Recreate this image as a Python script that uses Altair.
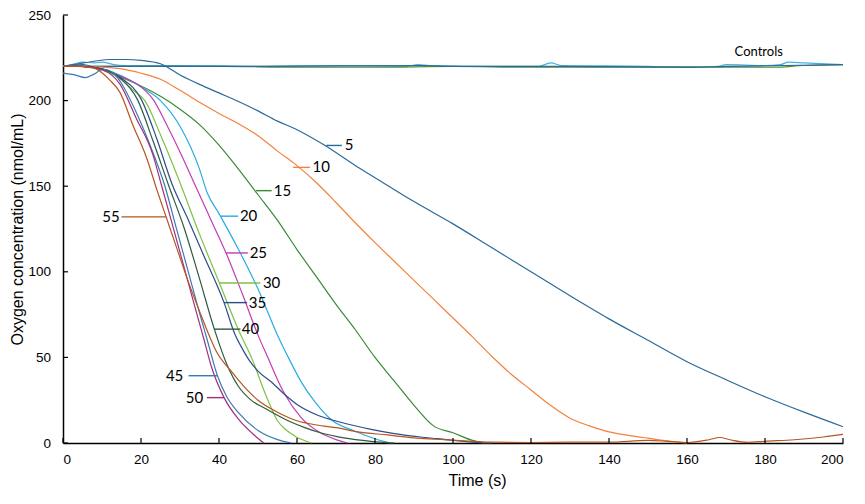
import altair as alt
import pandas as pd

# ---- values: time (s) and oxygen (nmol/mL) ----
t_5 = [0, 4, 8, 12, 16, 20, 25, 30, 35, 40, 45, 50, 55, 60, 67, 75, 80, 90, 100, 110, 120, 130, 140, 150, 160, 170, 180, 190, 200]
v_5 = [220, 221.5, 223, 224, 224, 223.5, 221.5, 215, 209.5, 204.5, 199.5, 194, 188, 183, 174, 162, 155, 141, 128, 114, 100, 86, 72.5, 60, 47.5, 37, 27, 18, 9.5]

t_10 = [0, 5, 10, 15, 20, 25, 30, 35, 40, 45, 50, 55, 60, 65, 70, 75, 80, 85, 90, 95, 100, 105, 110, 115, 120, 125, 130, 135, 140, 145, 150, 155, 160]
v_10 = [220, 220, 219.5, 218.5, 216, 212.5, 206, 199, 192.5, 186.5, 179.5, 170.5, 162, 152, 140.5, 128.5, 117, 106, 95, 84, 73, 62, 50.5, 40, 31, 22, 14.5, 10, 6.5, 4.5, 2.8, 1.2, 0]

t_15 = [0, 5, 10, 15, 20, 25, 30, 35, 40, 45, 50, 55, 60, 65, 70, 75, 80, 85, 90, 95, 100, 105, 108]
v_15 = [220, 220, 218, 213.5, 208.5, 202.5, 195, 186, 174, 160, 145, 130, 113, 97, 81, 66, 50, 36, 22, 10, 6, 1.5, 0]

t_20 = [0, 5, 10, 15, 20, 25, 30, 35, 37, 40, 45, 50, 55, 58, 61, 64.6, 68.8, 74.7, 80, 84]
v_20 = [220, 220, 218.5, 214.5, 208, 200, 185, 160, 146, 134, 113, 90, 63, 49, 36, 24, 13.6, 7, 2.5, 0]

t_25 = [0, 5, 10, 15, 20, 23, 27, 30, 34, 38, 42, 46, 50, 52.7, 55, 57, 61, 66, 70, 73]
v_25 = [220, 220, 218, 214, 208, 201, 184, 170, 150, 130, 110, 87, 63, 49, 37, 28, 15, 6, 2, 0]

t_30 = [0, 5, 10, 15, 18, 21, 25, 30, 35, 40, 45, 48.5, 52, 55, 57, 59.5, 63.7]
v_30 = [220, 220, 218, 212, 206, 200, 180, 152, 122, 94, 66, 49, 28, 13, 8, 4, 0]

t_35 = [0, 5, 10, 15, 20, 24, 28, 32, 36, 41.3, 44, 46, 48, 50, 53.5, 57, 60.3, 65, 68.8, 74, 79, 85, 91.7, 96, 100, 105, 110]
v_35 = [220, 220, 218.5, 213, 201, 178, 151, 131, 110, 82, 64, 55, 47.5, 42, 35.5, 28, 22, 16.5, 13.6, 10.5, 8, 5.5, 3.5, 2.5, 1.5, 0.5, 0]

t_40 = [0, 5, 10, 15, 19, 23, 27, 31, 35, 38.8, 42, 45, 48, 52, 58, 62, 66, 72, 79, 85]
v_40 = [220, 220, 218.5, 212.5, 201, 177, 151, 126, 96, 66.5, 46, 33, 25.5, 20, 12.7, 9, 6, 3, 1, 0]

t_45 = [0, 3, 5.7, 7.8, 10.3, 13, 15, 19, 23, 26, 29, 32, 35, 37, 39.6, 42, 45.1, 50.2, 55, 58.6]
v_45 = [216, 215, 213.4, 215.3, 218.3, 216, 210, 192, 170, 151, 126, 101, 76, 60, 39.3, 27, 17.4, 7, 2, 0]

t_50 = [0, 5, 10, 14.6, 18.8, 23, 25.2, 28, 31, 34, 36.2, 38, 41.3, 45.1, 49.3, 51.5]
v_50 = [220, 220, 218, 209.6, 189.6, 168.7, 151, 128, 103, 78, 60, 45, 26.5, 13.6, 4.1, 0]

t_55 = [0, 4, 8, 12, 14.6, 17.9, 21.4, 24.2, 26, 29, 32, 35, 38, 39.1, 43.4, 45.1, 50, 55, 60, 65, 70.5, 75.6, 83.2, 90, 95.9, 105, 110, 120, 130, 140, 150, 155, 160, 165.6, 168.4, 171, 175.6, 180, 187.5, 195, 200]
v_55 = [220, 220, 219, 212, 204.8, 185.8, 166.8, 147, 135, 115, 95, 77, 60, 54.5, 41.2, 36.4, 25, 18, 13, 10.5, 8.8, 6.5, 4.7, 3, 2.2, 1, 0.5, 0.3, 0.5, 0.5, 1.5, 1, 0.3, 1.9, 3.2, 1.9, 0.4, 1, 1.9, 3.5, 5]

t_ctl_a = [0, 3, 5, 8, 10, 13, 16, 30, 50, 70, 88, 91, 94, 110, 122, 125, 128, 150, 160, 168, 170, 180, 184, 186, 190, 200]
v_ctl_a = [220, 221.5, 222.5, 222, 222.5, 221, 220.5, 220.5, 220, 220.5, 220, 221, 220.5, 220, 220, 222, 220.5, 220, 219.5, 220, 221, 220.5, 221, 222.5, 222, 221]
t_ctl_b = [0, 10, 40, 60, 80, 100, 120, 140, 160, 175, 182, 190, 200]
v_ctl_b = [220, 220, 220, 219.5, 219.5, 220, 219.5, 219.5, 219.5, 219.5, 219.5, 220.5, 221]
t_ctl_c = [0, 5, 8, 20, 50, 92, 100, 130, 160, 170, 185, 200]
v_ctl_c = [220, 221, 220, 220, 220, 220.5, 220, 220, 219.5, 220, 220.5, 221]

series_names = ["ctl_a", "ctl_b", "ctl_c", "5", "10", "15", "20", "25", "30", "35", "40", "45", "50", "55"]
series_t = [t_ctl_a, t_ctl_b, t_ctl_c, t_5, t_10, t_15, t_20, t_25, t_30, t_35, t_40, t_45, t_50, t_55]
series_v = [v_ctl_a, v_ctl_b, v_ctl_c, v_5, v_10, v_15, v_20, v_25, v_30, v_35, v_40, v_45, v_50, v_55]
series_colors = ["#4aaee0", "#4f8f3a", "#2b6a99", "#2b6a99", "#f4813f", "#3a8a35", "#29abe2",
                 "#c13db5", "#7cc242", "#2c4c8c", "#2d5c3e", "#3b79b4", "#a0307e", "#b5561f"]

# label leaders (curve end, outer end), level and text position
lab_text = ["5", "10", "15", "20", "25", "30", "35", "40", "45", "50", "55"]
lab_t1 = [67.5, 59.0, 49.5, 40.4, 41.8, 40.0, 41.3, 38.7, 39.6, 41.3, 26.4]
lab_t2 = [71.5, 63.3, 53.5, 44.9, 47.4, 50.6, 47.2, 45.5, 32.2, 36.9, 15.0]
lab_v = [173.8, 161.0, 147.4, 132.5, 111.0, 93.5, 82.0, 66.5, 39.3, 26.5, 132.1]
lab_pos = [72.0, 63.7, 53.8, 45.1, 47.6, 51.0, 47.4, 45.6, 31.1, 36.2, 14.8]
lab_side = ["left"] * 8 + ["right"] * 3

x_ticks = [0, 20, 40, 60, 80, 100, 120, 140, 160, 180, 200]
y_ticks = [0, 50, 100, 150, 200, 250]

W, H = 780, 428

rows = []
for name, ts, vs in zip(series_names, series_t, series_v):
    for i, (t, v) in enumerate(zip(ts, vs)):
        rows.append({"series": name, "t": t, "v": v, "i": i})
df = pd.DataFrame(rows)

lab_df = pd.DataFrame({"series": lab_text, "t": lab_t1, "t2": lab_t2, "v": lab_v,
                       "tp": lab_pos, "side": lab_side})

xs = alt.Scale(domain=[0, 200], nice=False)
ys = alt.Scale(domain=[0, 250], nice=False)
color = alt.Color("series:N", scale=alt.Scale(domain=series_names, range=series_colors), legend=None)

lines = alt.Chart(df).mark_line(strokeWidth=1.2, interpolate="monotone").encode(
    x=alt.X("t:Q", scale=xs, axis=alt.Axis(title="Time (s)", values=x_ticks, labelPadding=9,
                                           titlePadding=7, titleX=414)),
    y=alt.Y("v:Q", scale=ys, axis=alt.Axis(title="Oxygen concentration (nmol/mL)", values=y_ticks,
                                           labelPadding=12.5, titlePadding=2)),
    color=color,
    detail="series:N",
    order="i:Q",
)

leaders = alt.Chart(lab_df).mark_rule(strokeWidth=1.4).encode(
    x="t:Q", x2="t2:Q", y="v:Q", color=color
)

text_left = alt.Chart(lab_df).transform_filter(alt.datum.side == "left").mark_text(
    align="left", baseline="middle", font="Lato", fontSize=15, color="black", dx=1
).encode(x="tp:Q", y="v:Q", text="series:N")

text_right = alt.Chart(lab_df).transform_filter(alt.datum.side == "right").mark_text(
    align="right", baseline="middle", font="Lato", fontSize=15, color="black", dx=-1
).encode(x="tp:Q", y="v:Q", text="series:N")

ctl_df = pd.DataFrame({"t": [178.4], "v": [228.6], "label": ["Controls"]})
ctl_text = alt.Chart(ctl_df).mark_text(
    align="center", baseline="middle", font="Lato", fontSize=13, color="black"
).encode(x="t:Q", y="v:Q", text="label:N")

yt = alt.Chart(pd.DataFrame({"v": y_ticks})).mark_rule(color="black", strokeWidth=1.2).encode(
    y="v:Q", x=alt.value(0), x2=alt.value(5)
)
xt = alt.Chart(pd.DataFrame({"t": x_ticks})).mark_rule(color="black", strokeWidth=1.2).encode(
    x="t:Q", y=alt.value(H), y2=alt.value(H - 5)
)

chart = alt.layer(lines, leaders, text_left, text_right, ctl_text, yt, xt).properties(
    width=W, height=H,
    autosize=alt.AutoSizeParams(type="none"),
    padding={"left": 55, "top": 7, "right": 12, "bottom": 49},
).configure_view(stroke=None).configure_axis(
    domainColor="black", domainWidth=1.5, ticks=False, grid=False,
    labelFont="Liberation Sans", labelFontSize=13.5, labelColor="black",
    titleFont="Liberation Sans", titleFontSize=16, titleFontWeight="normal", titleColor="black",
)

chart.save("out.html", embed_options={"renderer": "svg", "actions": False})
